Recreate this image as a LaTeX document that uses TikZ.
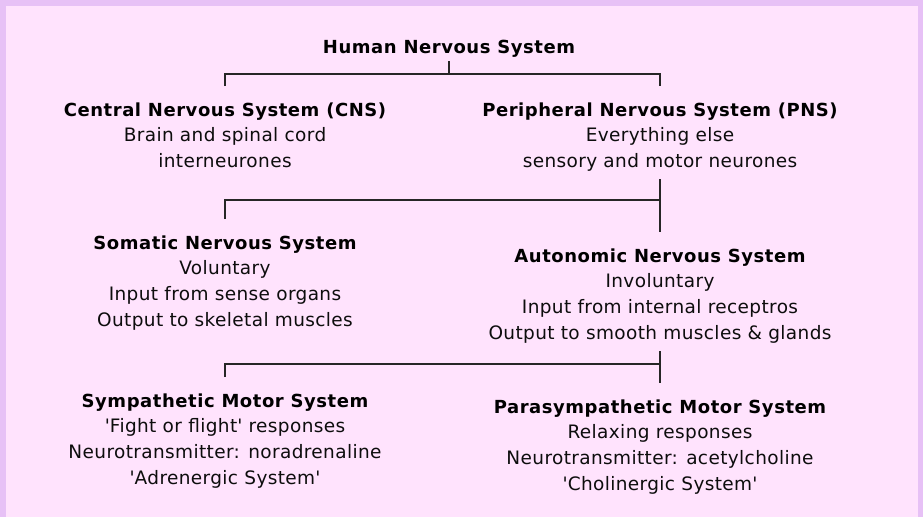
\documentclass[tikz,border=0pt]{standalone}
\usepackage{fontspec}
\setmainfont{DejaVu Sans}[LetterSpace=2.0]
\newfontfamily\headfont{DejaVu Sans}[LetterSpace=3.0]
\usetikzlibrary{positioning}
\definecolor{frame}{HTML}{E7C1F6}
\definecolor{panel}{HTML}{FFE3FD}
\tikzset{
  head/.style={font=\headfont\bfseries\fontsize{18}{21}\selectfont, text=black, inner sep=0pt, anchor=base},
  body/.style={font=\fontsize{18.5}{22}\selectfont, text=black!95, inner sep=0pt, anchor=base},
  link/.style={draw=black!85, line width=1.1pt},
}
\begin{document}
\begin{tikzpicture}[x=1pt,y=-1pt]
  % background
  \fill[frame] (0,0) rectangle (923,517);
  \fill[panel] (6,6) rectangle (917.5,517);
  \useasboundingbox (0,0) rectangle (923,517);

  % top
  \node[head] (hns) at (449,53) {Human Nervous System};

  % CNS and PNS
  \node[head] (cns) at (225,116) {Central Nervous System (CNS)};
  \foreach \txt [count=\i] in {Brain and spinal cord, interneurones}
    \node[body] (cns\i) at (225,116+25.5*\i) {\txt};
  \node[head] (pns) at (660,116) {Peripheral Nervous System (PNS)};
  \foreach \txt [count=\i] in {Everything else, sensory and motor neurones}
    \node[body] (pns\i) at (660,116+25.5*\i) {\txt};

  % somatic and autonomic
  \node[head] (sns) at (225,249) {Somatic Nervous System};
  \foreach \txt [count=\i] in {Voluntary, Input from sense organs, Output to skeletal muscles}
    \node[body] (sns\i) at (225,249+25.7*\i) {\txt};
  \node[head] (ans) at (660,262) {Autonomic Nervous System};
  \foreach \txt [count=\i] in {Involuntary, Input from internal receptros, Output to smooth muscles \& glands}
    \node[body] (ans\i) at (660,262+25.7*\i) {\txt};

  % sympathetic and parasympathetic
  \node[head] (sym) at (225,407) {Sympathetic Motor System};
  \foreach \txt [count=\i] in {\textquotesingle Fight or flight\textquotesingle\ responses, Neurotransmitter: noradrenaline, \textquotesingle Adrenergic System\textquotesingle}
    \node[body] (sym\i) at (225,407+25.7*\i) {\txt};
  \node[head] (psym) at (660,413) {Parasympathetic Motor System};
  \foreach \txt [count=\i] in {Relaxing responses, Neurotransmitter: acetylcholine, \textquotesingle Cholinergic System\textquotesingle}
    \node[body] (psym\i) at (660,413+25.7*\i) {\txt};

  % connectors
  \coordinate (bar1) at (449,74);
  \coordinate (bar2) at (660,200);
  \coordinate (bar3) at (660,364);
  \draw[link] ([yshift=-8pt]hns.base) -- (bar1);
  \draw[link] ([yshift=30pt]cns.base) |- (bar1) -| ([yshift=30pt]pns.base);
  \draw[link] ([yshift=-12pt]pns2.base) -- ([yshift=30pt]ans.base);
  \draw[link] ([yshift=30pt]sns.base) |- (bar2);
  \draw[link] ([yshift=-12pt]ans3.base) -- ([yshift=30pt]psym.base);
  \draw[link] ([yshift=30pt]sym.base) |- (bar3);
\end{tikzpicture}
\end{document}
